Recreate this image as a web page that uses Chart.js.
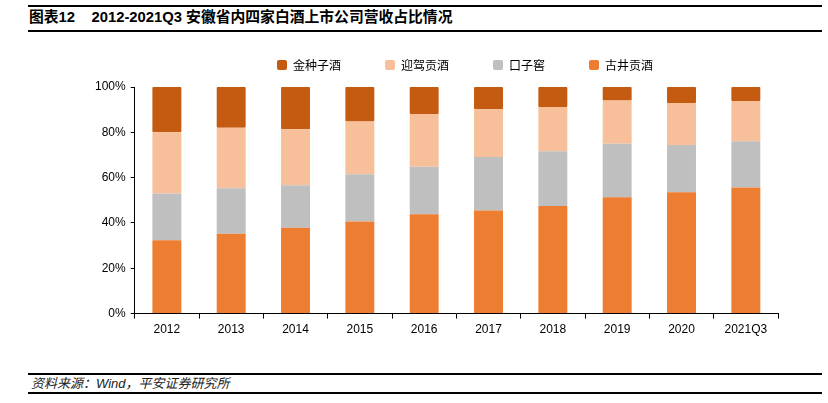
<!DOCTYPE html>
<html><head><meta charset="utf-8">
<script src="https://cdn.jsdelivr.net/npm/chart.js@4"></script>
<style>
html,body{margin:0;padding:0;background:#fff;}
body{width:828px;height:403px;position:relative;overflow:hidden;font-family:"Liberation Sans","Noto Sans CJK SC",sans-serif;}
.hl{position:absolute;left:28px;width:794px;background:#000;}
#title{position:absolute;left:29px;top:7px;font-size:14.8px;font-weight:bold;color:#000;white-space:pre;line-height:20px;}
#src{position:absolute;left:31px;top:375px;font-size:13px;font-style:italic;color:#222;line-height:17px;}
#wrap{position:absolute;left:0;top:15px;width:828px;height:326px;}
</style></head>
<body>
<div class="hl" style="top:5px;height:1.5px"></div>
<div id="title">图表12    2012-2021Q3 安徽省内四家白酒上市公司营收占比情况</div>
<div class="hl" style="top:30px;height:1.5px"></div>
<div id="wrap"><canvas id="c"></canvas></div>
<div class="hl" style="top:373px;height:1.5px"></div>
<div id="src">资料来源：Wind，平安证券研究所</div>
<div class="hl" style="top:392px;height:1.5px"></div>
<script>
const categories = ['2012','2013','2014','2015','2016','2017','2018','2019','2020','2021Q3'];
const gujing   = [32.4, 35.2, 37.9, 40.6, 43.8, 45.5, 47.5, 51.3, 53.5, 55.7];
const kouzijiao= [20.6, 20.1, 18.7, 20.9, 21.0, 23.6, 24.2, 23.7, 20.9, 20.4];
const yingjia  = [27.0, 26.7, 24.8, 23.3, 23.3, 21.1, 19.5, 19.0, 18.5, 17.7];
const jinzhongzi=[20.0, 18.0, 18.6, 15.2, 11.9, 9.8, 8.8, 6.0, 7.1, 6.2];
const yTicks = [0,20,40,60,80,100];

const font = {family:'"Liberation Sans","Noto Sans CJK SC",sans-serif', size:12};
const mk = (label,data,color)=>({label,data,backgroundColor:color,borderWidth:0,
  barPercentage:0.9,categoryPercentage:0.5,borderRadius:1,borderSkipped:false});

const legendFix = {
  id:'legendFix',
  beforeInit(chart){
    const lg = chart.legend;
    if(!lg) return;
    const orig = lg.fit;
    lg.fit = function(){ orig.call(this); this.height = 72; };
  },
  afterLayout(chart){
    const lg = chart.legend;
    if(lg){ lg.left += 31; lg.right += 31; }
  }
};

new Chart(document.getElementById('c'),{
  type:'bar',
  data:{labels:categories,datasets:[
    mk('古井贡酒',gujing,'#ED7D31'),
    mk('口子窖',kouzijiao,'#BFBFBF'),
    mk('迎驾贡酒',yingjia,'#F8C09A'),
    mk('金种子酒',jinzhongzi,'#C55A11')
  ]},
  plugins:[legendFix],
  options:{
    responsive:true,maintainAspectRatio:false,animation:false,
    layout:{padding:{left:90,right:50,top:0,bottom:0}},
    plugins:{
      tooltip:{enabled:false},
      legend:{position:'top',reverse:true,
        labels:{font:{family:'"Noto Sans CJK SC",sans-serif',size:12},color:'#000',boxWidth:10,boxHeight:10,
          padding:44,useBorderRadius:true,borderRadius:2}}
    },
    scales:{
      x:{stacked:true,
        grid:{display:true,drawOnChartArea:false,drawTicks:true,tickLength:5,color:'#000',offset:true},
        border:{color:'#000',width:1},
        ticks:{font,color:'#000',padding:4}},
      y:{stacked:true,min:0,max:100,
        afterBuildTicks:(a)=>{a.ticks=yTicks.map(v=>({value:v}));},
        grid:{display:true,drawOnChartArea:false,drawTicks:true,tickLength:4,color:'#000'},
        border:{color:'#000',width:1},
        ticks:{font,color:'#000',padding:5,callback:v=>v+'%'}}
    }
  }
});
</script>
</body></html>
